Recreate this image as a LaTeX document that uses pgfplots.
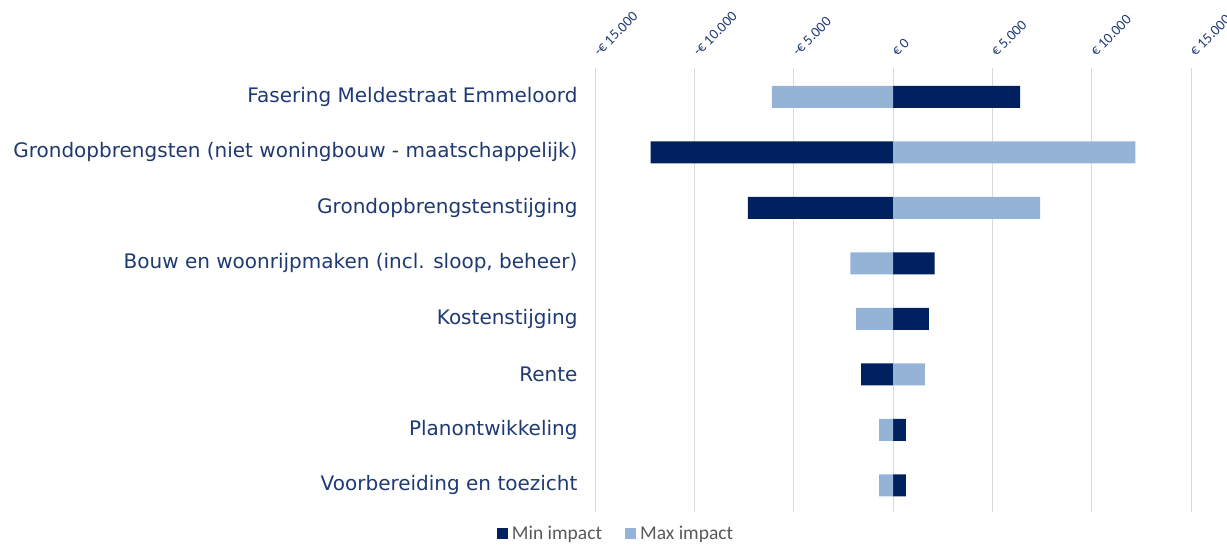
\documentclass[border=0pt]{standalone}
\usepackage{pgfplots}
\pgfplotsset{compat=1.18}
\usepackage{fontspec}
\setmainfont{Carlito}
\newfontfamily\verd{DejaVu Sans}
\definecolor{darkbar}{HTML}{002060}
\definecolor{lightbar}{HTML}{95B3D7}
\definecolor{labcol}{HTML}{1F3A73}
\definecolor{gridc}{HTML}{D9D9D9}
\definecolor{legtext}{HTML}{595959}
\begin{document}
\begin{tikzpicture}[x=1pt,y=1pt]
\begin{axis}[
  at={(595pt,36pt)}, anchor=south west,
  scale only axis, width=596pt, height=444pt,
  xbar, bar width=22pt,
  xmin=-15000, xmax=15000,
  ymin=-0.48, ymax=7.52,
  axis line style={draw=none},
  scaled x ticks=false,
  xtick={-15000,-10000,-5000,0,5000,10000,15000},
  xticklabels={-€ 15.000,-€ 10.000,-€ 5.000,€ 0,€ 5.000,€ 10.000,€ 15.000},
  xticklabel pos=right,
  xticklabel style={rotate=45, anchor=south west, font=\fontsize{14.5}{16}\selectfont, text=labcol, inner sep=0pt, xshift=10.8pt, yshift=4.5pt},
  xmajorgrids, grid style={gridc, line width=0.9pt},
  major tick length=0pt,
  ytick={0,...,7},
  yticklabels={Voorbereiding en toezicht,Planontwikkeling,Rente,Kostenstijging ,{Bouw en woonrijpmaken (incl. sloop, beheer)},Grondopbrengstenstijging,Grondopbrengsten (niet woningbouw - maatschappelijk),Fasering Meldestraat Emmeloord},
  yticklabel style={font=\verd\fontsize{20}{22}\selectfont, text=labcol, xshift=-14pt},
  legend style={at={(-0.17,-0.022)}, anchor=north west, draw=none, fill=none, font=\fontsize{19.5}{21}\selectfont, text=legtext, legend columns=2, /tikz/every even column/.append style={column sep=21pt}},
  legend image code/.code={\fill[#1] (0pt,-5.5pt) rectangle (11pt,5.5pt); \path (13pt,0pt);},
]
\addplot[xbar, draw=none, fill=darkbar, forget plot, bar shift=0pt] coordinates {(650,0) (650,1) (-1600,2) (1800,3) (2100,4) (-7300,5) (-12200,6) (6400,7)};
\addplot[xbar, draw=none, fill=lightbar, forget plot, bar shift=0pt] coordinates {(-700,0) (-700,1) (1600,2) (-1850,3) (-2150,4) (7400,5) (12200,6) (-6100,7)};
\addlegendimage{fill=darkbar, draw=none}
\addlegendentry{Min impact}
\addlegendimage{fill=lightbar, draw=none}
\addlegendentry{Max impact}
\end{axis}
\pgfresetboundingbox
\useasboundingbox (0,0) rectangle (1227,548);
\end{tikzpicture}
\end{document}
